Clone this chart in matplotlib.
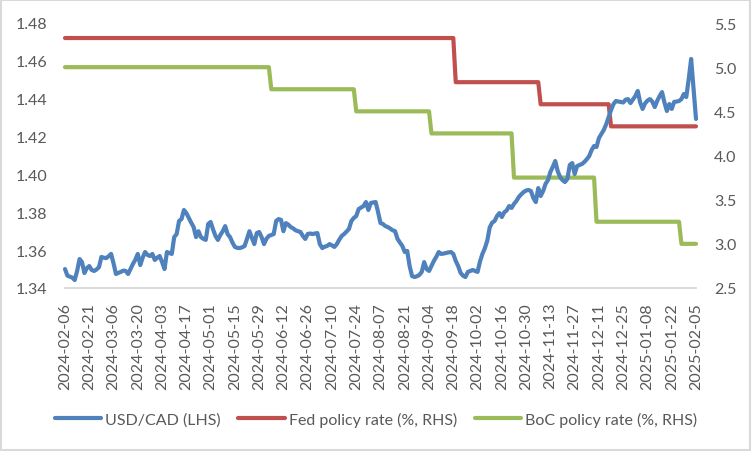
"""
USD/CAD vs Fed and BoC policy rates, Feb 2024 - Feb 2025.
"""

import numpy as np
import matplotlib
matplotlib.use("Agg")
import matplotlib.pyplot as plt
from matplotlib.patches import Rectangle

plt.rcParams['font.family'] = ['Lato', 'DejaVu Sans']

# daily USD/CAD (business days, 261 points)
usdcad = [
    1.3500, 1.3465, 1.3460, 1.3455, 1.3442, 1.3490, 1.3553, 1.3537, 1.3479, 1.3505,
    1.3516, 1.3495, 1.3490, 1.3498, 1.3510, 1.3564, 1.3560, 1.3558, 1.3568, 1.3580,
    1.3530, 1.3474, 1.3480, 1.3485, 1.3492, 1.3490, 1.3474, 1.3500, 1.3527, 1.3550,
    1.3580, 1.3521, 1.3560, 1.3590, 1.3575, 1.3569, 1.3580, 1.3548, 1.3560, 1.3569,
    1.3537, 1.3500, 1.3590, 1.3585, 1.3580, 1.3669, 1.3685, 1.3754, 1.3764, 1.3812,
    1.3796, 1.3770, 1.3745, 1.3722, 1.3669, 1.3700, 1.3669, 1.3660, 1.3654, 1.3738,
    1.3749, 1.3710, 1.3675, 1.3654, 1.3680, 1.3700, 1.3727, 1.3685, 1.3669, 1.3640,
    1.3617, 1.3612, 1.3611, 1.3615, 1.3622, 1.3660, 1.3700, 1.3665, 1.3632, 1.3690,
    1.3696, 1.3669, 1.3632, 1.3660, 1.3675, 1.3680, 1.3685, 1.3754, 1.3764, 1.3760,
    1.3700, 1.3743, 1.3735, 1.3722, 1.3715, 1.3705, 1.3700, 1.3696, 1.3675, 1.3659,
    1.3685, 1.3688, 1.3685, 1.3688, 1.3690, 1.3632, 1.3611, 1.3618, 1.3622, 1.3632,
    1.3625, 1.3617, 1.3632, 1.3655, 1.3675, 1.3685, 1.3698, 1.3712, 1.3754, 1.3770,
    1.3780, 1.3817, 1.3825, 1.3833, 1.3854, 1.3812, 1.3849, 1.3852, 1.3854, 1.3801,
    1.3743, 1.3738, 1.3727, 1.3722, 1.3714, 1.3705, 1.3700, 1.3660, 1.3640, 1.3622,
    1.3590, 1.3596, 1.3516, 1.3463, 1.3458, 1.3462, 1.3469, 1.3485, 1.3537, 1.3500,
    1.3490, 1.3516, 1.3543, 1.3565, 1.3590, 1.3580, 1.3582, 1.3585, 1.3588, 1.3590,
    1.3580, 1.3543, 1.3516, 1.3480, 1.3465, 1.3458, 1.3485, 1.3490, 1.3495, 1.3490,
    1.3485, 1.3540, 1.3580, 1.3610, 1.3650, 1.3720, 1.3745, 1.3754, 1.3780, 1.3796,
    1.3775, 1.3800, 1.3810, 1.3833, 1.3823, 1.3844, 1.3860, 1.3881, 1.3895, 1.3907,
    1.3915, 1.3918, 1.3912, 1.3875, 1.3854, 1.3928, 1.3886, 1.3912, 1.3950, 1.3970,
    1.4013, 1.4040, 1.4071, 1.4018, 1.3986, 1.3970, 1.3960, 1.3976, 1.4050, 1.4060,
    1.4002, 1.4044, 1.4050, 1.4055, 1.4066, 1.4080, 1.4097, 1.4129, 1.4150, 1.4145,
    1.4192, 1.4214, 1.4235, 1.4265, 1.4303, 1.4340, 1.4372, 1.4388, 1.4385, 1.4383,
    1.4380, 1.4395, 1.4398, 1.4377, 1.4395, 1.4414, 1.4441, 1.4380, 1.4346, 1.4375,
    1.4390, 1.4398, 1.4385, 1.4356, 1.4388, 1.4414, 1.4435, 1.4380, 1.4335, 1.4372,
    1.4346, 1.4383, 1.4385, 1.4388, 1.4398, 1.4425, 1.4409, 1.4504, 1.4610, 1.4451,
    1.4293,
]

# policy rates: levels and the day index where each new level starts
fed_levels = [5.33, 4.83, 4.58, 4.33]
fed_change_idx = [161, 196, 225]
boc_levels = [5.00, 4.75, 4.50, 4.25, 3.75, 3.25, 3.00]
boc_change_idx = [85, 120, 151, 185, 219, 254]

tick_labels = [
    "2024-02-06", "2024-02-21", "2024-03-06", "2024-03-20", "2024-04-03",
    "2024-04-17", "2024-05-01", "2024-05-15", "2024-05-29", "2024-06-12",
    "2024-06-26", "2024-07-10", "2024-07-24", "2024-08-07", "2024-08-21",
    "2024-09-04", "2024-09-18", "2024-10-02", "2024-10-16", "2024-10-30",
    "2024-11-13", "2024-11-27", "2024-12-11", "2024-12-25", "2025-01-08",
    "2025-01-22", "2025-02-05",
]


def step_series(levels, change_idx, n):
    bounds = [0] + list(change_idx) + [n]
    counts = np.diff(bounds)
    return np.repeat(levels, counts)


n = len(usdcad)
x = np.arange(n)
fed = step_series(fed_levels, fed_change_idx, n)
boc = step_series(boc_levels, boc_change_idx, n)

BLUE = '#4f81bd'
RED = '#c0504d'
GREEN = '#9bbb59'
TXT = '#595959'

fig = plt.figure(figsize=(7.52, 4.52), dpi=100)
ax = fig.add_axes([65 / 752, 1 - 289 / 452, 631 / 752, 265 / 452])
ax2 = ax.twinx()
ax.set_zorder(2)
ax2.set_zorder(1)
ax.patch.set_visible(False)

l1, = ax.plot(x, usdcad, color=BLUE, lw=3.0, solid_capstyle='round',
              solid_joinstyle='round', clip_on=False)
l2, = ax2.plot(x, fed, color=RED, lw=3.0, solid_capstyle='round', clip_on=False)
l3, = ax2.plot(x, boc, color=GREEN, lw=3.0, solid_capstyle='round', clip_on=False)

ax.set_xlim(0, n - 1)
ax.set_ylim(1.34, 1.48)
ax.set_yticks(np.arange(1.34, 1.4801, 0.02))
ax.set_yticklabels([f"{v:.2f}" for v in np.arange(1.34, 1.4801, 0.02)])
ax2.set_ylim(2.5, 5.5)
ax2.set_yticks(np.arange(2.5, 5.51, 0.5))
ax2.set_yticklabels([f"{v:.1f}" for v in np.arange(2.5, 5.51, 0.5)])

ax.set_xticks(np.arange(0, n, 10))
ax.set_xticklabels(tick_labels, rotation=90, va='top', ha='center')

for a in (ax, ax2):
    for s in a.spines.values():
        s.set_visible(False)
    a.tick_params(length=0, labelsize=11.5, colors=TXT)
ax.spines['bottom'].set_visible(True)
ax.spines['bottom'].set_color('#d9d9d9')
ax.spines['bottom'].set_linewidth(1.3)
ax.tick_params(axis='y', pad=13)
ax2.tick_params(axis='y', pad=13)
ax.tick_params(axis='x', pad=10)

fig.legend([l1, l2, l3],
           ["USD/CAD (LHS)", "Fed policy rate (%, RHS)", "BoC policy rate (%, RHS)"],
           loc='center', bbox_to_anchor=(0.5, 1 - 420 / 452), ncol=3, frameon=False,
           fontsize=11.5, handlelength=2.9, handletextpad=0.25, columnspacing=1.1,
           labelcolor=TXT)

# light chart border
fig.patches.append(Rectangle((0.001, 0.002), 0.997, 0.996, transform=fig.transFigure,
                             fill=False, edgecolor='#d9d9d9', lw=1.5))

fig.savefig("out.png", dpi=100)
